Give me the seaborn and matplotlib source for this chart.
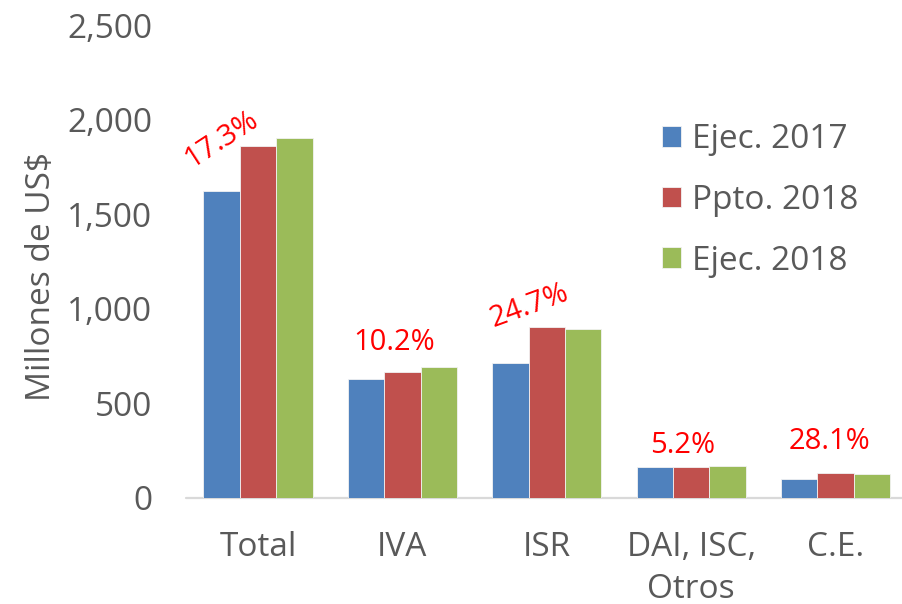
import matplotlib
matplotlib.use("Agg")
import matplotlib.pyplot as plt
import seaborn as sns
import pandas as pd

categories = ["Total", "IVA", "ISR", "DAI, ISC,\nOtros", "C.E."]
series = ["Ejec. 2017", "Ppto. 2018", "Ejec. 2018"]
ejec_2017 = [1624, 630, 715, 163, 101]
ppto_2018 = [1862, 664, 904, 163, 130]
ejec_2018 = [1905, 694, 892, 171, 129]
growth_labels = ["17.3%", "10.2%", "24.7%", "5.2%", "28.1%"]
yticks = [0, 500, 1000, 1500, 2000, 2500]
ytick_labels = ["0", "500", "1,000", "1,500", "2,000", "2,500"]

colors = ["#4F81BD", "#C0504D", "#9BBB59"]
grey = "#595959"

sns.set_theme(style="white")
plt.rcParams["font.family"] = ["Open Sans", "DejaVu Sans"]

df = pd.DataFrame({
    "cat": categories * 3,
    "serie": [series[0]] * 5 + [series[1]] * 5 + [series[2]] * 5,
    "valor": ejec_2017 + ppto_2018 + ejec_2018,
})

fig = plt.figure(figsize=(9.02, 6.04), dpi=100)
ax = fig.add_axes([0.206, 0.1755, 0.8003, 0.783])

sns.barplot(data=df, x="cat", y="valor", hue="serie", order=categories,
            hue_order=series, palette=colors, width=0.755, ax=ax,
            edgecolor="#f2f2f2", linewidth=0.6, saturation=1)

ax.set_xlim(-0.5, 4.5)
ax.set_ylim(0, 2500)
ax.set_yticks(yticks)
ax.set_yticklabels(ytick_labels)
ax.tick_params(axis="y", labelsize=24, colors=grey, length=0, pad=24)
ax.tick_params(axis="x", labelsize=24, colors=grey, length=0, pad=24)
for lbl in ax.get_xticklabels():
    lbl.set_linespacing(1.33)
    lbl.set_verticalalignment("top")
ax.set_xlabel("")
ax.set_ylabel("Millones de US$", fontsize=24, color=grey)
ax.yaxis.set_label_coords(-0.177, 0.469)
for s in ax.spines.values():
    s.set_visible(False)
ax.axhline(0, color="#d9d9d9", lw=1.6, zorder=0, clip_on=False)

# growth rate annotations (red), placed above each group
label_pos = [(-0.25, 1897, 33), (-0.06, 824, 0), (-0.12, 1015, 20),
             (-0.06, 280, 0), (-0.04, 301, 0)]
for i, ((dx, y, rot), txt) in enumerate(zip(label_pos, growth_labels)):
    ax.text(i + dx, y, txt, color="red", fontsize=21, ha="center", va="center",
            rotation=rot, rotation_mode="anchor")

leg = ax.legend(loc="upper left", bbox_to_anchor=(0.618, 0.856), frameon=False,
                fontsize=24, handlelength=0.57, handleheight=0.57,
                labelspacing=0.83, handletextpad=0.33)
for t in leg.get_texts():
    t.set_color(grey)

fig.savefig("out.png", dpi=100)
